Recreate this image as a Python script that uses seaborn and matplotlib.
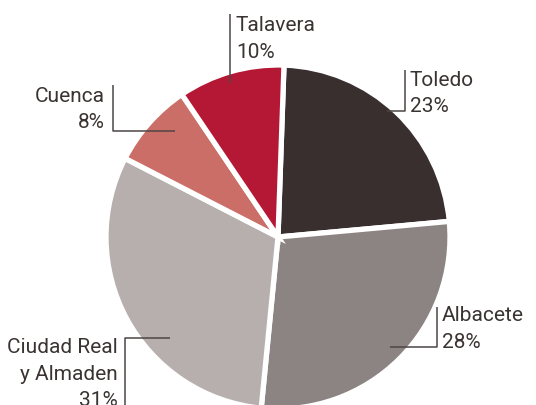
import matplotlib
matplotlib.use("Agg")
import matplotlib.pyplot as plt
import seaborn as sns

# data
regions = ["Toledo", "Albacete", "Ciudad Real\ny Almaden", "Cuenca", "Talavera"]
shares = [23, 28, 31, 8, 10]
slice_colors = ["#392f2e", "#8c8482", "#b7afad", "#cb6e68", "#b51834"]

sns.set_theme(style="white")
plt.rcParams["font.family"] = ["Roboto", "DejaVu Sans"]

W, H = 536, 405
fig = plt.figure(figsize=(W / 100, H / 100), dpi=100)
ax = fig.add_axes([0, 0, 1, 1])

cx, cy, R = 278, H - 237, 172
ax.pie(shares, colors=slice_colors, startangle=88, counterclock=False,
       center=(cx, cy), radius=R,
       wedgeprops=dict(edgecolor="white", linewidth=3.8))
ax.set_xlim(0, W)
ax.set_ylim(0, H)
ax.set_aspect("equal")
ax.axis("off")

text_col = "#3a3332"
line_col = "#4d4646"
fs = 15
step = 26.5

# leader line layout in pixel coords (y measured from top): path points, text x, first baseline, align
layout = {
    "Talavera": ([(230, 83), (230, 14)], 236, 31, "left"),
    "Toledo": ([(387, 111), (405, 111), (405, 70)], 410, 86, "left"),
    "Cuenca": ([(175, 131), (113, 131), (113, 85)], 105, 102, "right"),
    "Albacete": ([(390, 347), (437, 347), (437, 307)], 442, 321, "left"),
    "Ciudad Real\ny Almaden": ([(170, 338), (125, 338), (125, 410)], 118, 353, "right"),
}

for name, pct in zip(regions, shares):
    pts, tx, ty, ha = layout[name]
    ax.plot([p[0] for p in pts], [H - p[1] for p in pts], color=line_col, lw=1.1,
            solid_capstyle="butt", clip_on=False)
    lines = name.split("\n") + [f"{pct}%"]
    for i, s in enumerate(lines):
        ax.text(tx, H - (ty + i * step), s, ha=ha, va="baseline",
                fontsize=fs, color=text_col)

fig.savefig("out.png", dpi=100)
